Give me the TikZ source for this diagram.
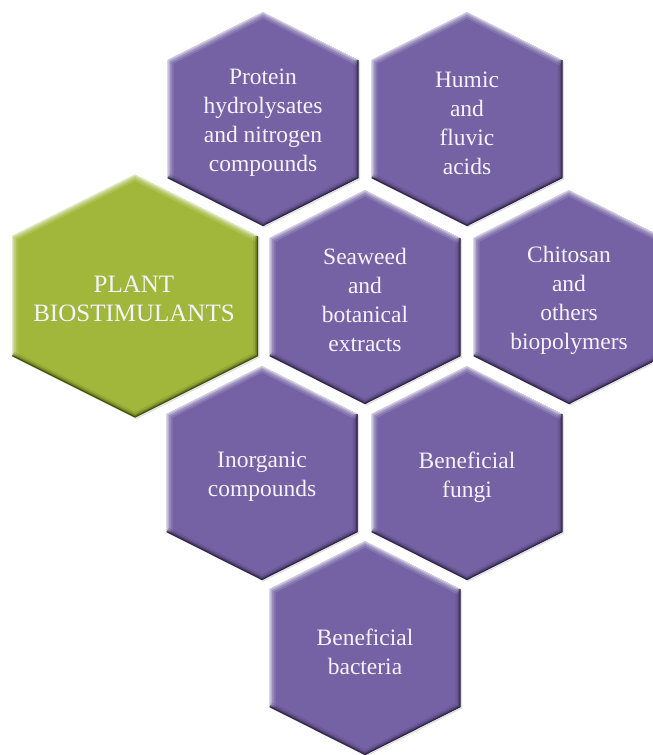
\documentclass[tikz,border=0pt]{standalone}
\usepackage{fontspec}
\setmainfont{Liberation Serif}
\definecolor{hexpurple}{HTML}{7562A5}
\definecolor{hexpurpledark}{HTML}{241a38}
\definecolor{hexgreen}{HTML}{A0B73B}
\definecolor{hexgreendark}{HTML}{35400A}
\definecolor{hextext}{HTML}{F5F2FB}
\tikzset{
  hexlabel/.style={align=center, text=hextext, inner sep=0pt,
    font=\fontsize{23.5}{29}\selectfont},
  biglabel/.style={hexlabel, font=\fontsize{25}{29}\selectfont},
}
% #1 name, #2 cx, #3 cy, #4 half width, #5 shoulder, #6 half height, #7 fill, #8 dark
\newcommand\drawhexcell[8]{%
  \coordinate (#1-t)  at (#2,{#3-#6});
  \coordinate (#1-tr) at ({#2+#4},{#3-#5});
  \coordinate (#1-br) at ({#2+#4},{#3+#5});
  \coordinate (#1-b)  at (#2,{#3+#6});
  \coordinate (#1-bl) at ({#2-#4},{#3+#5});
  \coordinate (#1-tl) at ({#2-#4},{#3-#5});
  \fill[black, opacity=0.12] ([shift={(1.5,1.5)}]#1-t) -- ([shift={(1.5,1.5)}]#1-tr) -- ([shift={(1.5,1.5)}]#1-br) -- ([shift={(1.5,1.5)}]#1-b) -- ([shift={(1.5,1.5)}]#1-bl) -- ([shift={(1.5,1.5)}]#1-tl) -- cycle;
  \begin{scope}
    \clip (#1-t) -- (#1-tr) -- (#1-br) -- (#1-b) -- (#1-bl) -- (#1-tl) -- cycle;
    \fill[#7] (#1-t) -- (#1-tr) -- (#1-br) -- (#1-b) -- (#1-bl) -- (#1-tl) -- cycle;
    \foreach \w/\o in {12/0.12, 8/0.18, 4.5/0.28, 2/0.4}{
      \draw[white, line width=\w pt, opacity=\o, line join=round]
        (#1-bl) -- (#1-tl) -- (#1-t) -- (#1-tr);
    }
    \foreach \w/\o in {10/0.12, 6/0.22, 3.5/0.4, 1.6/0.65}{
      \draw[#8, line width=\w pt, opacity=\o, line join=round]
        (#1-tr) -- (#1-br) -- (#1-b) -- (#1-bl);
    }
  \end{scope}
}
\begin{document}
\begin{tikzpicture}[x=1pt,y=-1pt]
  \useasboundingbox (0,0) rectangle (653,755);
  \fill[white] (0,0) rectangle (653,755);

  \drawhexcell{protein}{263}{119}{95.5}{59}{107}{hexpurple}{hexpurpledark}
  \drawhexcell{humic}{467}{119}{95.5}{59}{107}{hexpurple}{hexpurpledark}
  \drawhexcell{plant}{135}{296}{123}{60}{121.5}{hexgreen}{hexgreendark}
  \drawhexcell{seaweed}{365}{297}{95.5}{59}{107}{hexpurple}{hexpurpledark}
  \drawhexcell{chitosan}{569}{297}{95.5}{59}{107}{hexpurple}{hexpurpledark}
  \drawhexcell{inorganic}{262}{473}{95.5}{59}{107}{hexpurple}{hexpurpledark}
  \drawhexcell{fungi}{467}{473}{95.5}{59}{107}{hexpurple}{hexpurpledark}
  \drawhexcell{bacteria}{365}{648}{95.5}{59}{107}{hexpurple}{hexpurpledark}

  \node[hexlabel] (proteintext) at (263,123) {Protein\\hydrolysates\\and nitrogen\\compounds};
  \node[hexlabel] (humictext) at (467,123) {Humic\\and\\fluvic\\acids};
  \node[biglabel] (planttext) at (134,299) {PLANT\\BIOSTIMULANTS};
  \node[hexlabel] (seaweedtext) at (365,300) {Seaweed\\and\\botanical\\extracts};
  \node[hexlabel] (chitosantext) at (569,300) {Chitosan\\and\\others\\biopolymers};
  \node[hexlabel] (inorganictext) at (262,477) {Inorganic\\compounds};
  \node[hexlabel] (fungitext) at (467,477) {Beneficial\\fungi};
  \node[hexlabel] (bacteriatext) at (365,652) {Beneficial\\bacteria};
\end{tikzpicture}
\end{document}
